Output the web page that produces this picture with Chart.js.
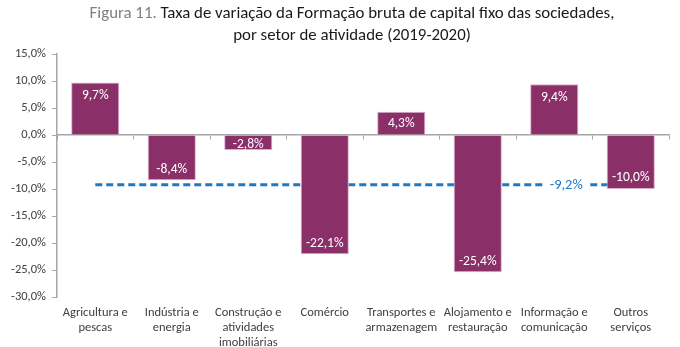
<!DOCTYPE html>
<html>
<head>
<meta charset="utf-8">
<script src="https://cdn.jsdelivr.net/npm/chart.js@4.4.0/dist/chart.umd.min.js"></script>
<style>
  html, body { margin: 0; padding: 0; background: #fff; }
</style>
</head>
<body>
<canvas id="chart" width="680" height="347"></canvas>
<script>
// categories (x axis)
const categories = [
    ['Agricultura e', 'pescas'],
    ['Indústria e', 'energia'],
    ['Construção e', 'atividades', 'imobiliárias'],
    ['Comércio'],
    ['Transportes e', 'armazenagem'],
    ['Alojamento e', 'restauração'],
    ['Informação e', 'comunicação'],
    ['Outros', 'serviços']
];
// taxa de variação (%)
const growth = [9.7, -8.4, -2.8, -22.1, 4.3, -25.4, 9.4, -10.0];
// média das sociedades (%)
const average = [-9.2, -9.2, -9.2, -9.2, -9.2, -9.2, -9.2, -9.2];
const yTicks = [15, 10, 5, 0, -5, -10, -15, -20, -25, -30];

const titlePrefix = 'Figura 11. ';
const titleLine1 = 'Taxa de variação da Formação bruta de capital fixo das sociedades,';
const titleLine2 = 'por setor de atividade (2019-2020)';

const FONT = 'Carlito, Calibri, Lato, sans-serif';
const BAR = '#8B2F69';
const BLUE = '#1E78C8';
const AXIS = '#A6A6A6';
const TEXT = '#404040';

function pct(v) {
    return v.toFixed(1).replace('.', ',') + '%';
}

// white value labels inside the bar ends
const barLabels = {
    id: 'barLabels',
    afterDatasetsDraw(chart) {
        const ctx = chart.ctx;
        const meta = chart.getDatasetMeta(0);
        ctx.save();
        ctx.font = '13.5px ' + FONT;
        ctx.fillStyle = '#ffffff';
        ctx.textAlign = 'center';
        ctx.textBaseline = 'middle';
        meta.data.forEach((bar, i) => {
            const v = growth[i];
            const len = Math.abs(bar.base - bar.y);
            const off = Math.min(12, len / 2 - 1);
            const y = v >= 0 ? bar.y + off : bar.y - off;
            ctx.fillText(pct(v), bar.x, y + 1);
        });
        ctx.restore();
    }
};

// label for the dashed average line
const avgLabel = {
    id: 'avgLabel',
    afterDatasetsDraw(chart) {
        const ctx = chart.ctx;
        const x = chart.scales.x.getPixelForValue(6) + 12;
        const y = chart.scales.y.getPixelForValue(average[6]);
        const txt = pct(average[6]);
        ctx.save();
        ctx.font = '14.5px ' + FONT;
        const w = ctx.measureText(txt).width;
        ctx.fillStyle = '#ffffff';
        ctx.fillRect(x - w / 2 - 6, y - 8, w + 12, 16);
        ctx.fillStyle = BLUE;
        ctx.textAlign = 'center';
        ctx.textBaseline = 'middle';
        ctx.fillText(txt, x, y + 1);
        ctx.restore();
    }
};

// two-line title, "Figura 11." in grey
const titlePlugin = {
    id: 'titlePlugin',
    afterDraw(chart) {
        const ctx = chart.ctx;
        const cx = 352;
        let size = 16;
        ctx.save();
        ctx.font = size + 'px ' + FONT;
        const full = ctx.measureText(titlePrefix + titleLine1).width;
        size = size * 525 / full;
        ctx.font = size + 'px ' + FONT;
        const wPre = ctx.measureText(titlePrefix).width;
        const wL1 = ctx.measureText(titleLine1).width;
        const start = cx - (wPre + wL1) / 2;
        ctx.textBaseline = 'middle';
        ctx.textAlign = 'left';
        ctx.fillStyle = '#7F7F7F';
        ctx.fillText(titlePrefix, start, 14);
        ctx.fillStyle = '#1a1a1a';
        ctx.fillText(titleLine1, start + wPre, 14);
        ctx.textAlign = 'center';
        ctx.fillText(titleLine2, cx, 36);
        ctx.restore();
    }
};

new Chart(document.getElementById('chart'), {
    data: {
        labels: categories,
        datasets: [
            {
                type: 'bar',
                data: growth,
                xAxisID: 'x',
                backgroundColor: BAR,
                borderColor: '#D8B0C9',
                borderWidth: 1,
                barPercentage: 0.63,
                categoryPercentage: 1,
                order: 1
            },
            {
                type: 'line',
                data: average,
                xAxisID: 'x',
                borderColor: BLUE,
                borderWidth: 3,
                borderDash: [7, 4],
                pointRadius: 0,
                fill: false,
                order: 2
            }
        ]
    },
    options: {
        responsive: false,
        animation: false,
        devicePixelRatio: 1,
        layout: { padding: { top: 54, right: 11, left: 0, bottom: 0 } },
        plugins: {
            legend: { display: false },
            tooltip: { enabled: false }
        },
        scales: {
            y: {
                min: -30,
                max: 15,
                afterBuildTicks: (s) => { s.ticks = yTicks.map(v => ({ value: v })); },
                afterFit: (s) => { s.width = 57; },
                ticks: {
                    callback: (v) => pct(v),
                    color: TEXT,
                    font: { size: 12.5, family: FONT },
                    padding: 6
                },
                grid: { drawOnChartArea: false, drawTicks: true, tickLength: 5, color: AXIS },
                border: { display: true, color: AXIS, width: 1.5 }
            },
            x: {
                type: 'category',
                position: { y: 0 },
                offset: true,
                ticks: { display: false },
                grid: { offset: true, drawOnChartArea: false, drawTicks: true, tickLength: 4, color: AXIS },
                border: { display: true, color: AXIS, width: 1.5 }
            },
            x2: {
                type: 'category',
                position: 'bottom',
                labels: categories,
                offset: true,
                afterFit: (s) => { s.height = 50; },
                grid: { display: false, drawTicks: false },
                border: { display: false },
                ticks: {
                    autoSkip: false,
                    maxRotation: 0,
                    padding: 8,
                    color: TEXT,
                    font: { size: 12.5, family: FONT, lineHeight: 1.2 }
                }
            }
        }
    },
    plugins: [barLabels, avgLabel, titlePlugin]
});
</script>
</body>
</html>
